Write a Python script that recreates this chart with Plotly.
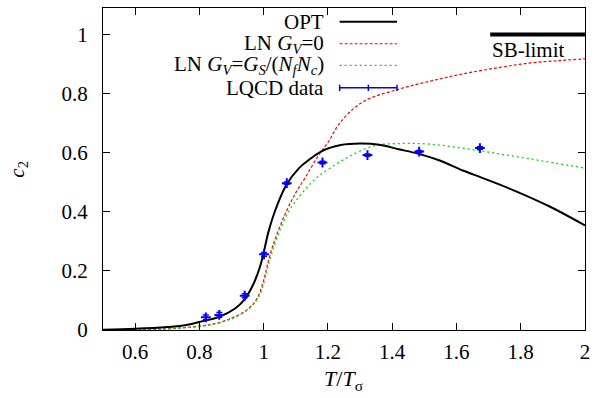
import plotly.graph_objects as go

# ---- data ----
T_opt = [0.5, 0.6, 0.7, 0.76, 0.81, 0.86, 0.91, 0.94, 0.97, 0.99, 1.0, 1.015, 1.035, 1.07,
         1.11, 1.14, 1.18, 1.24, 1.3, 1.36, 1.42, 1.48, 1.55, 1.62, 1.68, 1.78, 1.89, 2.0]
c2_opt = [0.001, 0.004, 0.010, 0.017, 0.030, 0.044, 0.072, 0.103, 0.160, 0.219, 0.262, 0.333,
          0.402, 0.490, 0.548, 0.575, 0.605, 0.626, 0.631, 0.627, 0.612, 0.597, 0.573, 0.540,
          0.515, 0.472, 0.418, 0.354]

T_ln0 = [0.5, 0.6, 0.7, 0.8, 0.85, 0.9, 0.95, 0.98, 1.0, 1.01, 1.02, 1.036, 1.067, 1.098,
         1.13, 1.17, 1.2, 1.24, 1.31, 1.42, 1.52, 1.62, 1.73, 1.83, 1.92, 2.0]
c2_ln0 = [0.0, 0.001, 0.004, 0.013, 0.022, 0.040, 0.070, 0.108, 0.168, 0.213, 0.255, 0.309,
          0.393, 0.461, 0.517, 0.590, 0.635, 0.705, 0.773, 0.815, 0.843, 0.867, 0.888, 0.904,
          0.912, 0.918]

T_lnv = [0.5, 0.6, 0.7, 0.8, 0.85, 0.9, 0.95, 0.985, 1.005, 1.021, 1.046, 1.077, 1.108, 1.14,
         1.17, 1.21, 1.26, 1.345, 1.42, 1.52, 1.67, 1.83, 2.0]
c2_lnv = [0.0, 0.001, 0.004, 0.012, 0.021, 0.038, 0.068, 0.112, 0.178, 0.245, 0.325, 0.400,
          0.448, 0.489, 0.520, 0.550, 0.584, 0.624, 0.631, 0.629, 0.607, 0.579, 0.548]

T_lqcd = [0.82, 0.862, 0.941, 1.001, 1.072, 1.183, 1.323, 1.484, 1.673]
c2_lqcd = [0.043, 0.051, 0.116, 0.256, 0.497, 0.567, 0.592, 0.604, 0.616]
err_lqcd = [0.008, 0.008, 0.007, 0.006, 0.004, 0.004, 0.004, 0.004, 0.004]

T_sb = [1.705, 2.0]
c2_sb = [1.0, 1.0]

x_ticks = [0.6, 0.8, 1.0, 1.2, 1.4, 1.6, 1.8, 2.0]
x_ticklabels = ["0.6", "0.8", "1", "1.2", "1.4", "1.6", "1.8", "2"]
y_ticks = [0, 0.2, 0.4, 0.6, 0.8, 1.0]
y_ticklabels = ["0", "0.2", "0.4", "0.6", "0.8", "1"]

legend_labels = ["OPT",
                 "LN <i>G</i><sub><i>V</i></sub>=0",
                 "LN <i>G</i><sub><i>V</i></sub>=<i>G</i><sub><i>S</i></sub>/(<i>N</i><sub><i>f</i></sub><i>N</i><sub><i>c</i></sub>)",
                 "LQCD data"]

FONT = "Liberation Serif, Times New Roman, DejaVu Serif, serif"
FS = 21
TFONT = dict(family=FONT, size=FS, color="black")

fig = go.Figure()
fig.add_trace(go.Scatter(x=T_ln0, y=c2_ln0, mode="lines", line=dict(color="#ff0000", width=1.2, dash="3px,2px"),
                         line_shape="spline", showlegend=False))
fig.add_trace(go.Scatter(x=T_lnv, y=c2_lnv, mode="lines", line=dict(color="#00e000", width=1.3, dash="2px,3px"),
                         line_shape="spline", showlegend=False))
fig.add_trace(go.Scatter(x=T_opt, y=c2_opt, mode="lines", line=dict(color="black", width=2),
                         line_shape="spline", showlegend=False))
fig.add_trace(go.Scatter(x=T_lqcd, y=c2_lqcd, mode="markers",
                         marker=dict(symbol="cross-thin", size=7, line=dict(color="#0000ff", width=2)),
                         error_y=dict(type="data", array=err_lqcd, color="#0000ff", thickness=1.5, width=3),
                         showlegend=False))
fig.add_trace(go.Scatter(x=T_sb, y=c2_sb, mode="lines", line=dict(color="black", width=4), showlegend=False))

annotations = []
shapes = []
row_y = [0.957, 0.889, 0.822, 0.752]
x_txt = 0.462
x0s, x1s = 0.491, 0.610
styles = [dict(color="black", width=2), dict(color="#ff0000", width=1.2, dash="3px,2px"),
          dict(color="#00e000", width=1.3, dash="2px,3px"), dict(color="#0000ff", width=1.5)]
for lab, yy, st in zip(legend_labels, row_y, styles):
    annotations.append(dict(text=lab, x=x_txt, y=yy, xref="paper", yref="paper", xanchor="right",
                            yanchor="middle", showarrow=False, font=TFONT))
    shapes.append(dict(type="line", xref="paper", yref="paper", x0=x0s, x1=x1s, y0=yy, y1=yy, line=st))
# error bar caps / marker in legend sample
for xx in [x0s, (x0s + x1s) / 2, x1s]:
    shapes.append(dict(type="line", xref="paper", yref="paper", x0=xx, x1=xx, y0=row_y[3] - 0.01,
                       y1=row_y[3] + 0.01, line=dict(color="#0000ff", width=1.5)))

annotations.append(dict(text="SB-limit", x=T_sb[0], y=0.947, xref="x", yref="y", xanchor="left",
                        yanchor="middle", showarrow=False, font=TFONT))
annotations.append(dict(text="<i>c</i><sub>2</sub>", x=-0.177, y=0.50, xref="paper", yref="paper",
                        xanchor="center", yanchor="middle",
                        textangle=-90, showarrow=False, font=TFONT))
annotations.append(dict(text="<i>T</i>/<i>T</i><sub>σ</sub>", x=0.499, y=-0.155, xref="paper", yref="paper",
                        xanchor="center", yanchor="middle", showarrow=False,
                        font=dict(family=FONT, size=22, color="black")))

fig.update_layout(
    width=597, height=398,
    margin=dict(l=103, r=7, t=7, b=68),
    paper_bgcolor="white", plot_bgcolor="white",
    font=TFONT,
    annotations=annotations, shapes=shapes,
    xaxis=dict(range=[0.5, 2.0], tickvals=x_ticks, ticktext=x_ticklabels, ticks="inside", ticklen=7,
               tickcolor="black", showline=True, linecolor="black", linewidth=1.3, mirror="allticks",
               showgrid=False, zeroline=False, ticklabelstandoff=3, tickfont=TFONT),
    yaxis=dict(range=[0, 1.09], tickvals=y_ticks, ticktext=y_ticklabels, ticks="inside", ticklen=7,
               tickcolor="black", showline=True, linecolor="black", linewidth=1.3, mirror="allticks",
               showgrid=False, zeroline=False, ticklabelstandoff=10, tickfont=TFONT),
)

fig.write_html("out.html", config={"displayModeBar": False},
               post_script="document.body.style.margin='0px';document.body.style.padding='0px';")
